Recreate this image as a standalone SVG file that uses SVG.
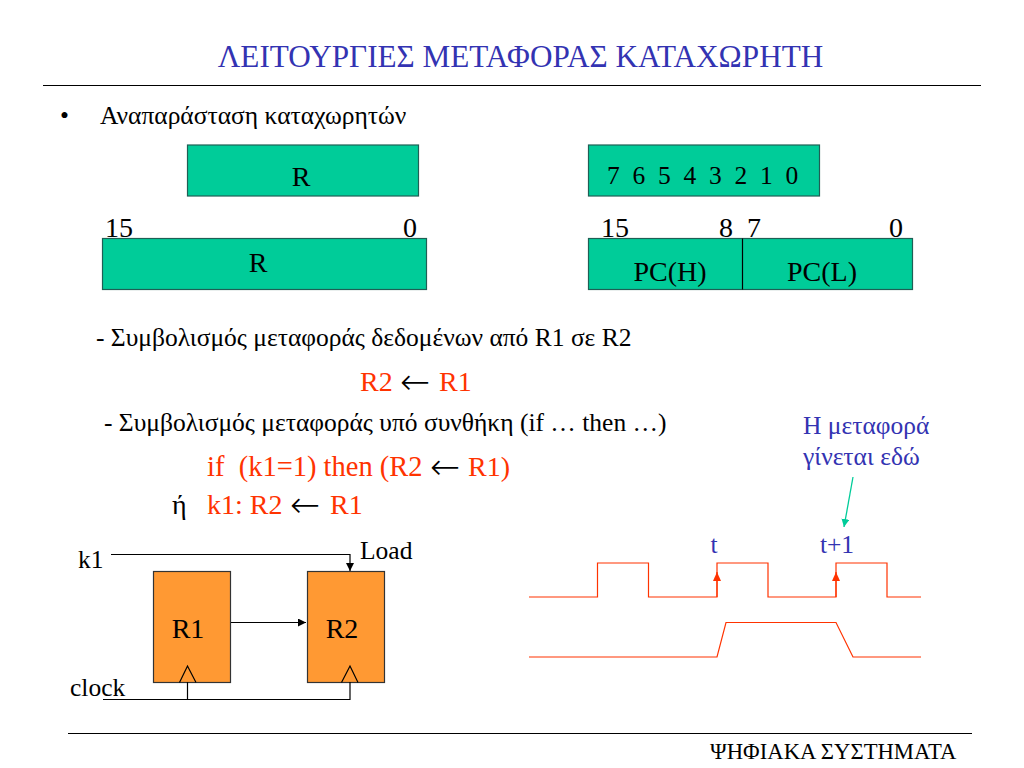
<svg xmlns="http://www.w3.org/2000/svg" width="1024" height="768" viewBox="0 0 1024 768">
<defs>
<marker id="ak" markerUnits="userSpaceOnUse" markerWidth="9" markerHeight="9" refX="8" refY="4" orient="auto"><path d="M0,0L8,4L0,8Z" fill="#000"/></marker>
<marker id="ar" markerUnits="userSpaceOnUse" markerWidth="9" markerHeight="11" refX="9" refY="4" orient="auto"><path d="M0,0L9,4L0,8Z" fill="#ff3300"/></marker>
<marker id="ag" markerUnits="userSpaceOnUse" markerWidth="9" markerHeight="9" refX="8" refY="4" orient="auto"><path d="M0,0L8,4L0,8Z" fill="#00cc99"/></marker>
</defs>
<style>
text{font-family:"Liberation Serif","Times New Roman",serif;font-size:28px;fill:#000}
.s{font-size:25.500px}
.b{fill:#3333b2}
.r{fill:#ff3300}
.m{text-anchor:middle}
.a{font-family:"DejaVu Sans",sans-serif;font-weight:200;font-size:36px;fill:#000}
.g{fill:#00cc99;stroke:#1f5f55;stroke-width:1.2}
.o{fill:#ff9933;stroke:#333;stroke-width:1.2}
.k{fill:none;stroke:#000;stroke-width:1.2}
.w{fill:none;stroke:#ff3300;stroke-width:1.2}
</style>
<rect width="1024" height="768" fill="#fff"/>
<g id="header">
<text x="520.500" y="67" class="m b" style="font-size:31.200px">ΛΕΙΤΟΥΡΓΙΕΣ ΜΕΤΑΦΟΡΑΣ ΚΑΤΑΧΩΡΗΤΗ</text>
<path d="M43 85.500H981" stroke="#000" fill="none"/>
<text x="60" y="124" class="s">•</text>
<text x="100" y="124" class="s">Αναπαράσταση καταχωρητών</text>
</g>
<g id="reg-r8"><rect x="187.500" y="145" width="231" height="51" class="g"/><text x="301" y="186" class="m">R</text></g>
<g id="reg-r16"><rect x="102.500" y="238.500" width="324" height="51" class="g"/><text x="258" y="272" class="m">R</text>
<text x="105" y="237">15</text><text x="403" y="237">0</text></g>
<g id="reg-bits"><rect x="588.500" y="145" width="231" height="51" class="g"/><text x="607" y="184" class="s" xml:space="preserve">7  6  5  4  3  2  1  0</text></g>
<g id="reg-pc"><rect x="588.500" y="238.500" width="324" height="51" class="g"/><path d="M742.500 238.500V289.500" class="k"/>
<text x="670" y="281" class="m">PC(H)</text><text x="822" y="281" class="m">PC(L)</text>
<text x="601" y="237">15</text><text x="719" y="237">8</text><text x="747" y="237">7</text><text x="889" y="237">0</text></g>
<g id="texts">
<text x="96" y="346" class="s">- Συμβολισμός μεταφοράς δεδομένων από R1 σε R2</text>
<text class="r"><tspan x="360" y="391">R2</tspan><tspan class="a" x="400" y="394">←</tspan><tspan x="439" y="391">R1</tspan></text>
<text x="104" y="431" class="s">- Συμβολισμός μεταφοράς υπό συνθήκη (if … then …)</text>
<text class="r" xml:space="preserve"><tspan x="207" y="476" style="font-size:28.500px">if  (k1=1) then (R2</tspan><tspan class="a" x="430" y="479">←</tspan><tspan x="468" y="476">R1)</tspan></text>
<text x="172" y="514">ή</text>
<text class="r"><tspan x="207" y="514">k1: R2</tspan><tspan class="a" x="290" y="517">←</tspan><tspan x="330" y="514">R1</tspan></text>
<text x="803" y="434" class="s b">Η μεταφορά</text>
<text x="803" y="465" class="s b">γίνεται εδώ</text>
<text x="714" y="553" class="m s b">t</text>
<text x="837" y="553" class="m s b">t+1</text>
<text x="710" y="759" style="font-size:22.700px">ΨΗΦΙΑΚΑ ΣΥΣΤΗΜΑΤΑ</text>
</g>
<g id="node-r1"><rect x="153.500" y="571.500" width="77" height="111" class="o"/><path d="M179.500 682.500L187.500 666L196 682.500" class="k"/><text x="188" y="638" class="m">R1</text></g>
<g id="node-r2"><rect x="307.500" y="571.500" width="77" height="111" class="o"/><path d="M341.500 682.500L350 666L358 682.500" class="k"/><text x="342" y="638" class="m">R2</text></g>
<g id="labels">
<text x="78" y="568" class="s">k1</text>
<text x="360" y="559" class="s">Load</text>
<text x="70" y="696" class="s">clock</text>
</g>
<g id="connectors">
<path d="M111 554.500H350V571" class="k" marker-end="url(#ak)"/>
<path d="M231 622.500H306" class="k" marker-end="url(#ak)"/>
<path d="M103 699.500H350V682M187.500 699.500V682" class="k"/>
<path d="M853 477L844 527" fill="none" stroke="#00cc99" stroke-width="1.3" marker-end="url(#ag)"/>
<path d="M717 597V572" class="w" marker-end="url(#ar)"/>
<path d="M836 597V572" class="w" marker-end="url(#ar)"/>
</g>
<g id="waveforms">
<path d="M529 597H597.500V563H648.500V597H717V563H768V597H836V563H887V597H921" class="w"/>
<path d="M529 657H717L726 622.500H836L853 657H921" class="w"/>
</g>
<path id="footer-rule" d="M68 733.500H972" stroke="#000" fill="none"/>
</svg>
